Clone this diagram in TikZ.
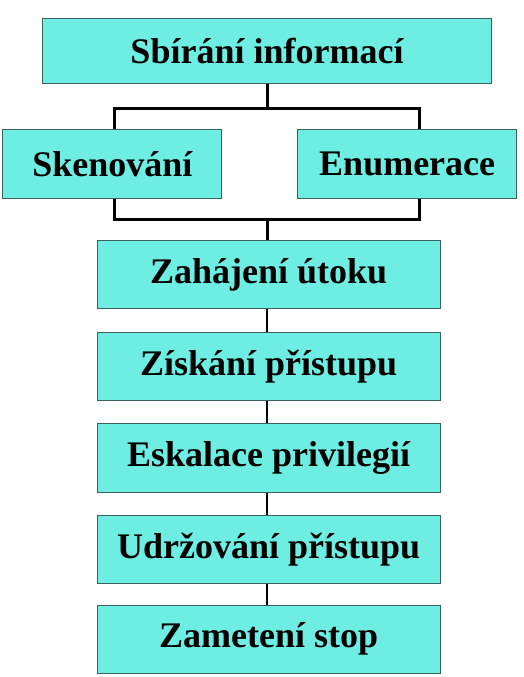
\documentclass[tikz,border=0pt]{standalone}
\usepackage{fontspec}
\setmainfont{Liberation Serif}
\begin{document}
\begin{tikzpicture}[x=1pt,y=-1pt,
  box/.style={draw=boxline,fill=boxfill,line width=1pt,inner sep=0pt,anchor=center,
    font=\fontsize{36}{40}\selectfont\bfseries},
  conn/.style={draw=black,line width=3pt},
  chain/.style={draw=black,line width=2.4pt}]
\definecolor{boxfill}{RGB}{110,238,227}
\definecolor{boxline}{RGB}{60,95,95}
\useasboundingbox (0,0) rectangle (524,677);
\fill[white] (0,0) rectangle (524,677);
\node[box,minimum width=448.6pt,minimum height=64pt] (top) at (267,51) {Sbírání informací};
\node[box,minimum width=218.7pt,minimum height=68.7pt] (sken) at (112.3,163.7) {Skenování};
\node[box,minimum width=219pt,minimum height=68.7pt] (enum) at (407.2,163.7) {Enumerace};
\node[box,minimum width=342.7pt,minimum height=68.3pt] (zah) at (268.7,274.8) {Zahájení útoku};
\node[box,minimum width=342.7pt,minimum height=68.3pt] (zisk) at (268.7,366.5) {Získání přístupu};
\node[box,minimum width=342.7pt,minimum height=68.3pt] (esk) at (268.7,458) {Eskalace privilegií};
\node[box,minimum width=342.7pt,minimum height=68.3pt] (udr) at (268.7,549.2) {Udržování přístupu};
\node[box,minimum width=342.7pt,minimum height=68.3pt] (zam) at (268.7,639.3) {Zametení stop};
\coordinate (j1) at (267,108);
\coordinate (j2) at (267,219.7);
\coordinate (lx) at (114.3,0);
\coordinate (rx) at (419.7,0);
\draw[conn] (j1 |- top.south) -- (j1);
\draw[conn] (sken.north -| lx) |- (j1) -| (enum.north -| rx);
\draw[conn] (sken.south -| lx) |- (j2) -| (enum.south -| rx);
\draw[conn] (j2) -- (j2 |- zah.north);
\draw[chain] (zah.south -| j2) -- (zisk.north -| j2);
\draw[chain] (zisk.south -| j2) -- (esk.north -| j2);
\draw[chain] (esk.south -| j2) -- (udr.north -| j2);
\draw[chain] (udr.south -| j2) -- (zam.north -| j2);
\end{tikzpicture}
\end{document}
